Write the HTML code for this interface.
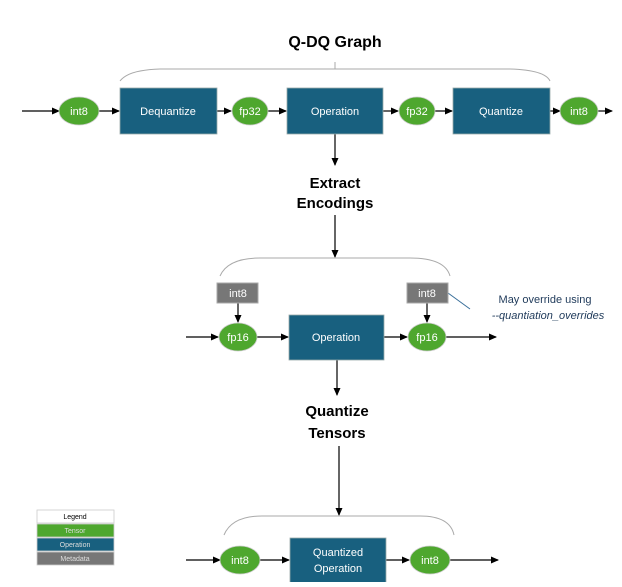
<!DOCTYPE html>
<html><head><style>
body{margin:0;background:#fff;}
svg text{font-family:"Liberation Sans",sans-serif;}
</style></head><body>
<svg width="622" height="582" viewBox="0 0 622 582" xmlns="http://www.w3.org/2000/svg">
<defs><marker id="a" markerWidth="8" markerHeight="8" refX="7" refY="4" orient="auto" markerUnits="userSpaceOnUse"><path d="M0,0.5 L8,4 L0,7.5Z" fill="#000"/></marker></defs>
<g stroke="#000" stroke-width="1.2" fill="none" marker-end="url(#a)">
<line x1="22" y1="111" x2="59" y2="111"/><line x1="99" y1="111" x2="119" y2="111"/>
<line x1="217" y1="111" x2="231" y2="111"/><line x1="268" y1="111" x2="286" y2="111"/>
<line x1="383" y1="111" x2="398" y2="111"/><line x1="435" y1="111" x2="452" y2="111"/>
<line x1="550" y1="111" x2="560" y2="111"/><line x1="598" y1="111" x2="612" y2="111"/>
<line x1="335" y1="134" x2="335" y2="165"/><line x1="335" y1="215" x2="335" y2="257"/>
<line x1="186" y1="337" x2="218" y2="337"/><line x1="257" y1="337" x2="288" y2="337"/>
<line x1="384" y1="337" x2="407" y2="337"/><line x1="446" y1="337" x2="496" y2="337"/>
<line x1="238" y1="303" x2="238" y2="322"/><line x1="427" y1="303" x2="427" y2="322"/>
<line x1="337" y1="360" x2="337" y2="395"/><line x1="339" y1="446" x2="339" y2="515"/>
<line x1="186" y1="560" x2="220" y2="560"/><line x1="260" y1="560" x2="289" y2="560"/>
<line x1="386" y1="560" x2="409" y2="560"/><line x1="450" y1="560" x2="498" y2="560"/>
</g>
<g stroke="#aaa" stroke-width="1" fill="none">
<path d="M120,81 Q128,70 160,69 L510,69 Q545,70 550,81"/><line x1="335" y1="62" x2="335" y2="69"/>
<path d="M220,276 Q228,258 260,258 L410,258 Q445,258 450,276"/>
<path d="M224,535 Q232,516 262,516 L420,516 Q450,516 454,535"/>
</g>
<line x1="448" y1="293" x2="470" y2="309" stroke="#3a6f9a" stroke-width="1"/>
<text x="335" y="47" font-size="16" font-weight="bold" text-anchor="middle">Q-DQ Graph</text>
<text x="335" y="188" font-size="15" font-weight="bold" text-anchor="middle">Extract</text>
<text x="335" y="208" font-size="15" font-weight="bold" text-anchor="middle">Encodings</text>
<text x="337" y="416" font-size="15" font-weight="bold" text-anchor="middle">Quantize</text>
<text x="337" y="438" font-size="15" font-weight="bold" text-anchor="middle">Tensors</text>
<g fill="#18607f" stroke="#9aa" stroke-width="0.8">
<rect x="120" y="88" width="97" height="46"/><rect x="287" y="88" width="96" height="46"/><rect x="453" y="88" width="97" height="46"/>
<rect x="289" y="315" width="95" height="45"/><rect x="290" y="538" width="96" height="46"/>
</g>
<g fill="#777" stroke="#aaa"><rect x="217" y="283" width="41" height="20"/><rect x="407" y="283" width="41" height="20"/></g>
<g fill="#4ea72e" stroke="#ccc" stroke-width="0.8">
<ellipse cx="79" cy="111" rx="20" ry="14"/><ellipse cx="250" cy="111" rx="18" ry="14"/>
<ellipse cx="417" cy="111" rx="18" ry="14"/><ellipse cx="579" cy="111" rx="19" ry="14"/>
<ellipse cx="238" cy="337" rx="19" ry="14"/><ellipse cx="427" cy="337" rx="19" ry="14"/>
<ellipse cx="240" cy="560" rx="20" ry="14"/><ellipse cx="430" cy="560" rx="20" ry="14"/>
</g>
<g fill="#fff" font-size="11" text-anchor="middle">
<text x="79" y="115">int8</text><text x="250" y="115">fp32</text><text x="417" y="115">fp32</text><text x="579" y="115">int8</text>
<text x="168" y="115">Dequantize</text><text x="335" y="115">Operation</text><text x="501" y="115">Quantize</text>
<text x="238" y="297">int8</text><text x="427" y="297">int8</text>
<text x="238" y="341">fp16</text><text x="427" y="341">fp16</text><text x="336" y="341">Operation</text>
<text x="240" y="564">int8</text><text x="430" y="564">int8</text>
<text x="338" y="556">Quantized</text><text x="338" y="572">Operation</text>
</g>
<text x="545" y="303" font-size="11" text-anchor="middle" fill="#1f3a5a">May override using</text>
<text x="548" y="319" font-size="11" text-anchor="middle" fill="#1f3a5a" font-style="italic">--quantiation_overrides</text>
<g stroke="#ccc" stroke-width="0.8">
<rect x="37" y="510" width="77" height="13" fill="#fff"/><rect x="37" y="524" width="77" height="13" fill="#4ea72e"/>
<rect x="37" y="538" width="77" height="13" fill="#18607f"/><rect x="37" y="552" width="77" height="13" fill="#777"/>
</g>
<g font-size="7" text-anchor="middle"><text x="75" y="519">Legend</text><text x="75" y="533" fill="#ddd">Tensor</text><text x="75" y="547" fill="#ddd">Operation</text><text x="75" y="561" fill="#ddd">Metadata</text></g>
</svg>
</body></html>
